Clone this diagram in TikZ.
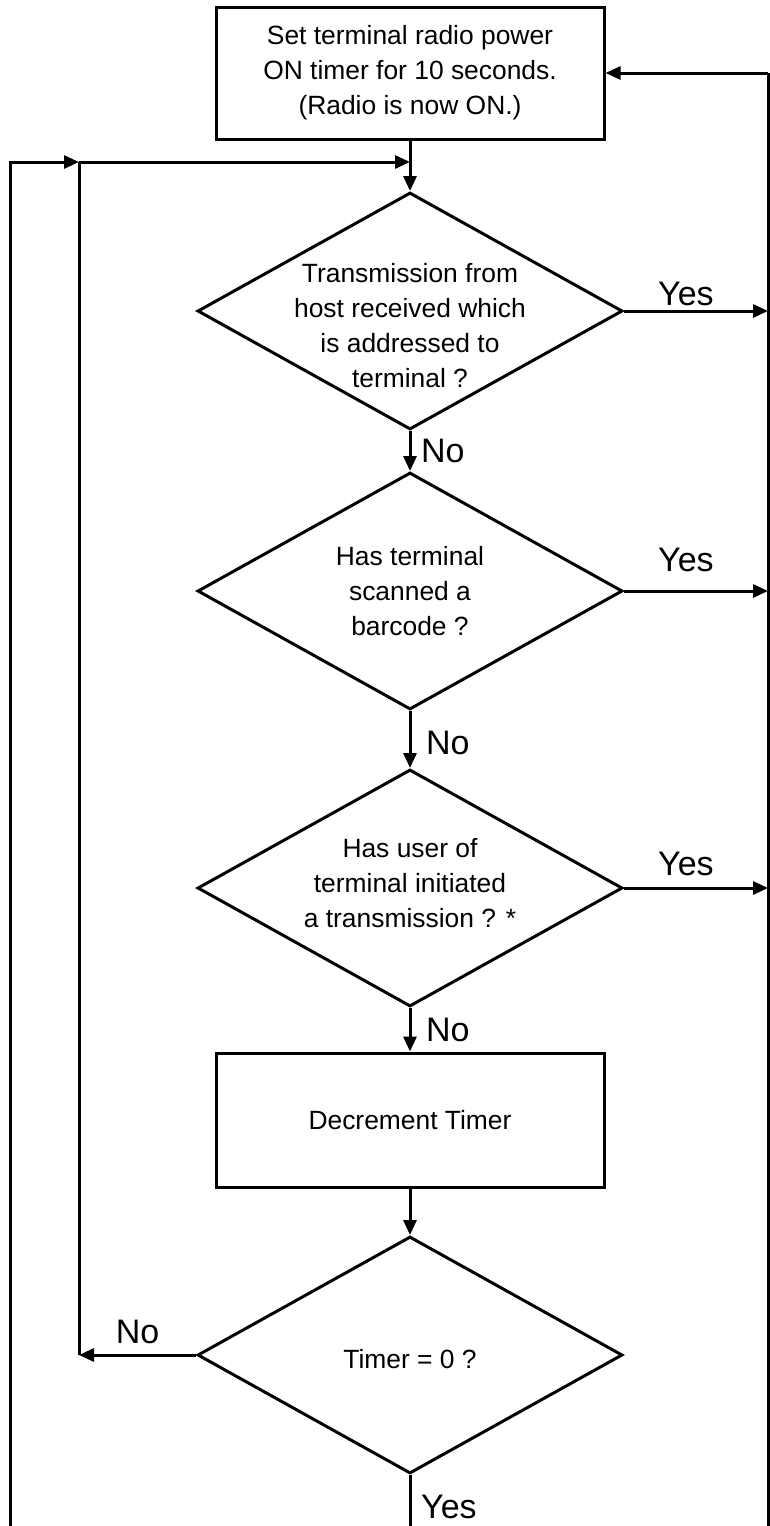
\documentclass[tikz,border=0pt]{standalone}
\usepackage{fontspec}
\setmainfont{Liberation Sans}
\usepackage{tikz}
\usetikzlibrary{shapes.geometric, arrows.meta, positioning, calc}

\begin{document}
\begin{tikzpicture}[x=0.5pt, y=-0.5pt, line width=1.5pt,
		>={Triangle[length=7.5pt, width=6.5pt]},
		procbox/.style={draw, rectangle, minimum width=194pt, minimum height=66pt, align=center, font=\fontsize{13.2}{17.5}\selectfont},
		decision/.style={draw, diamond, minimum width=212.5pt, minimum height=118.5pt, inner sep=0pt},
		qtext/.style={align=center, font=\fontsize{13.2}{17.5}\selectfont},
		answer/.style={font=\fontsize{17}{20}\selectfont}]
			\useasboundingbox (0,0) rectangle (770,1526);
			
			% --- Boxes and Decisions ---
			\node[procbox] (start) at (410,73) {Set terminal radio power\\ON timer for 10 seconds.\\(Radio is now ON.)};
			
			\node[decision] (hostq) at (410,311) {};
			\node[qtext] (hosttxt) at (410,326) {Transmission from\\host received which\\is addressed to\\terminal ?};
			
			\node[decision] (scanq) at (410,591) {};
			\node[qtext] (scantxt) at (410,591) {Has terminal\\scanned a\\barcode ?};
			
			\node[decision] (userq) at (410,888) {};
			\node[qtext] (usertxt) at (410,883) {Has user of\\terminal initiated\\a transmission ? *};
			
			\node[procbox, minimum height=67pt] (decr) at (410,1120) {Decrement Timer};
			
			\node[decision] (timerq) at (410,1355) {};
			\node[qtext] (timertxt) at (410,1359) {Timer = 0 ?};
			
			% --- Define Coordinates ---
			% Left loop
			\coordinate (merge) at (410,162);
			\coordinate (loopin) at (79,162);
			\coordinate (outtop) at (10,162);
			\coordinate (outbot) at (10,1526);
			\coordinate (nojoin) at (79,1355);
			% Right return line
			\coordinate (rtop) at (768,73);
			\coordinate (rbot) at (768,1526);
			\coordinate (hostyes) at (768,311);
			\coordinate (scanyes) at (768,591);
			\coordinate (useryes) at (768,888);
			% Bottom exit
			\coordinate (endyes) at (410,1526);
			
			% --- Draw the Main Flow ---
			\draw[->] (start.south) -- (hostq.north);
			\draw[->] (hostq.south) -- (scanq.north) node[answer, midway, right, xshift=1.5pt] (no1) {No};
			\draw[->] (scanq.south) -- (userq.north) node[answer, midway, right, xshift=4pt, yshift=-1.5pt] (no2) {No};
			\draw[->] (userq.south) -- (decr.north) node[answer, midway, right, xshift=4pt] (no3) {No};
			\draw[->] (decr.south) -- (timerq.north);
			\draw (timerq.south) -- (endyes) node[answer, midway, right, xshift=1.5pt, yshift=-3pt] (yes4) {Yes};
			
			% --- Draw the Left Loops ---
			\draw[->] (timerq.west) -- (nojoin) node[answer, midway, above, yshift=1.75pt] (no4) {No};
			\draw (nojoin) -- (loopin);
			\draw[->] (loopin) -- (merge);
			\draw[->] (outbot) -- (outtop) -- (loopin);
			
			% --- Draw the Right Return ---
			\draw[->] (hostq.east) -- (hostyes) node[answer, pos=0.43, above, yshift=-1.25pt] (yes1) {Yes};
			\draw[->] (scanq.east) -- (scanyes) node[answer, pos=0.43, above, yshift=5.75pt] (yes2) {Yes};
			\draw[->] (userq.east) -- (useryes) node[answer, pos=0.43, above, yshift=2.25pt] (yes3) {Yes};
			\draw (rbot) -- (rtop);
			\draw[->] (rtop) -- (start.east);
			
		\end{tikzpicture}
\end{document}
